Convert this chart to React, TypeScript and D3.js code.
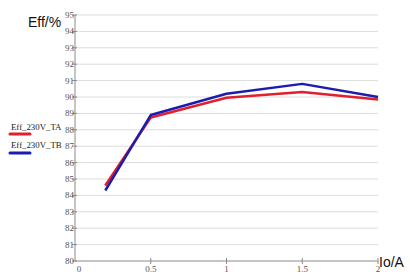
import React from "react";
import * as d3 from "d3";

const xValues = [0.2, 0.5, 1, 1.5, 2];
const seriesTA = [84.6, 88.75, 89.95, 90.3, 89.85];
const seriesTB = [84.3, 88.9, 90.2, 90.8, 90.0];
const xTicks = [0, 0.5, 1, 1.5, 2];
const yTicks = [80, 81, 82, 83, 84, 85, 86, 87, 88, 89, 90, 91, 92, 93, 94, 95];
const seriesNames = ["Eff_230V_TA", "Eff_230V_TB"];
const seriesColors = ["#e0202c", "#1c1cb0"];

export default function App() {
  const W = 410, H = 277;
  const x = d3.scaleLinear().domain([0, 2]).range([75, 378]);
  const y = d3.scaleLinear().domain([80, 95]).range([261, 15]);
  const line = d3
    .line<number>()
    .x((_, i) => x(xValues[i]))
    .y((d) => y(d));
  const series = [seriesTA, seriesTB];
  const serif = "'Liberation Serif', 'DejaVu Serif', serif";
  const sans = "'Liberation Sans', Arial, sans-serif";
  return (
    <svg
      width={W}
      height={H}
      style={{ position: "absolute", left: 0, top: 0, background: "#fff" }}
    >
      <rect width={W} height={H} fill="#fff" />
      {yTicks.slice(1).map((t) => (
        <line key={"g" + t} x1={x(0)} x2={x(2)} y1={y(t)} y2={y(t)} stroke="#dcdcdc" strokeWidth={1} />
      ))}
      <line x1={x(0)} x2={x(0)} y1={y(95)} y2={y(80)} stroke="#8a8a8a" strokeWidth={1} />
      <line x1={x(0)} x2={x(2)} y1={y(80)} y2={y(80)} stroke="#8a8a8a" strokeWidth={1} />
      {yTicks.map((t) => (
        <g key={"y" + t}>
          <line x1={x(0) - 3} x2={x(0) + 2} y1={y(t)} y2={y(t)} stroke="#8a8a8a" />
          <text x={x(0) - 1} y={y(t) + 3} textAnchor="end" fontFamily={serif} fontSize={9} fill="#555">
            {t}
          </text>
        </g>
      ))}
      {xTicks.map((t) => (
        <g key={"x" + t}>
          {t > 0 && <line x1={x(t)} x2={x(t)} y1={y(80) - 3} y2={y(80) + 3} stroke="#8a8a8a" />}
          <text
            x={t === 0 ? x(t) + 4 : x(t)}
            y={272}
            textAnchor="middle"
            fontFamily={serif}
            fontSize={9}
            fill="#555"
          >
            {t}
          </text>
        </g>
      ))}
      {series.map((s, i) => (
        <path key={"s" + i} d={line(s) || ""} fill="none" stroke={seriesColors[i]} strokeWidth={2.5} strokeLinejoin="round" />
      ))}
      <text x={28} y={27} fontFamily={sans} fontSize={14} fill="#111">
        Eff/%
      </text>
      <text x={379} y={267} fontFamily={sans} fontSize={14} fill="#111">
        Io/A
      </text>
      {seriesNames.map((n, i) => (
        <g key={"l" + i}>
          <text x={11} y={130 + i * 18} fontFamily={serif} fontSize={8.8} fill="#222">
            {n}
          </text>
          <line x1={10} x2={30} y1={134 + i * 19} y2={134 + i * 19} stroke={seriesColors[i]} strokeWidth={3} strokeLinecap="round" />
        </g>
      ))}
    </svg>
  );
}
